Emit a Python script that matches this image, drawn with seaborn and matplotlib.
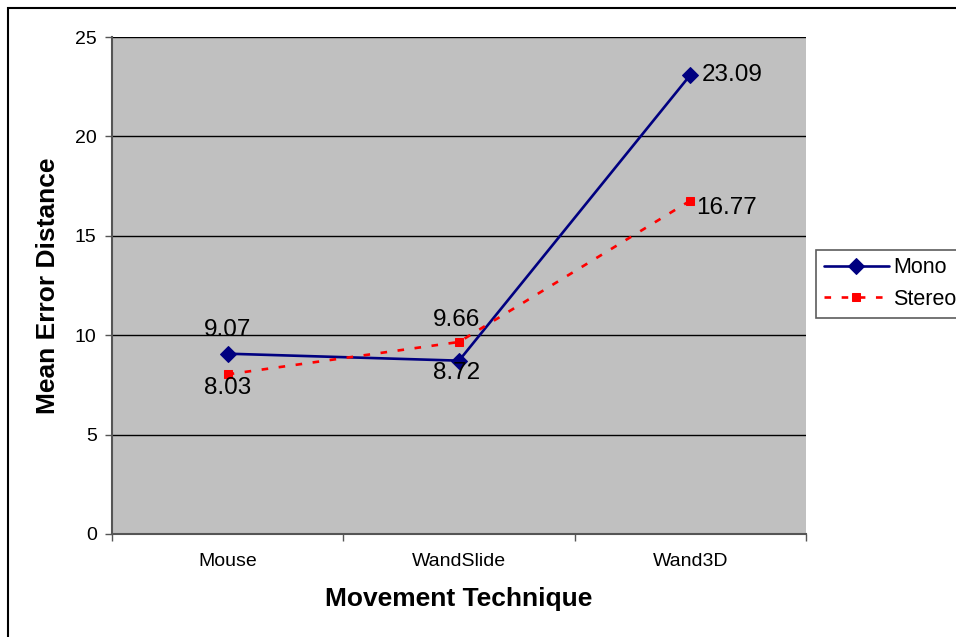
import matplotlib
matplotlib.use("Agg")
import matplotlib.pyplot as plt
from matplotlib.patches import Rectangle
import seaborn as sns
import pandas as pd

techniques = ["Mouse", "WandSlide", "Wand3D"]
mono = [9.07, 8.72, 23.09]
stereo = [8.03, 9.66, 16.77]
y_ticks = [0, 5, 10, 15, 20, 25]

sns.set_theme(style="white")
plt.rcParams["font.family"] = ["Liberation Sans", "DejaVu Sans"]
plt.rcParams["text.color"] = "black"
plt.rcParams["axes.labelcolor"] = "black"
plt.rcParams["xtick.color"] = "black"
plt.rcParams["ytick.color"] = "black"

df = pd.DataFrame({
    "Technique": techniques * 2,
    "Mean Error Distance": mono + stereo,
    "Display": ["Mono"] * 3 + ["Stereo"] * 3,
})

fig = plt.figure(figsize=(9.56, 6.37), dpi=100)
ax = fig.add_axes([112 / 956, 1 - 534 / 637, 694 / 956, 497 / 637])
ax.set_facecolor("#c0c0c0")

sns.lineplot(data=df[df.Display == "Mono"], x="Technique", y="Mean Error Distance",
             ax=ax, color="#000080", linewidth=1.9, marker="D", markersize=8,
             markeredgecolor="#000080", label="Mono", sort=False)
sns.lineplot(data=df[df.Display == "Stereo"], x="Technique", y="Mean Error Distance",
             ax=ax, color="#ff0000", linewidth=1.9, linestyle=(0, (2.5, 4)), marker="s",
             markersize=6, markeredgecolor="#ff0000", label="Stereo", sort=False)

ax.set_xlim(-0.5, 2.5)
ax.set_ylim(0, 25)
ax.set_yticks(y_ticks)
ax.yaxis.grid(True, color="black", linewidth=1)
ax.set_axisbelow(True)

# category ticks on boundaries, labels centred in each band
ax.set_xticks([-0.5, 0.5, 1.5, 2.5])
ax.set_xticklabels([])
ax.set_xticks(range(len(techniques)), minor=True)
ax.set_xticklabels(techniques, minor=True, fontsize=14)
ax.tick_params(axis="x", which="minor", length=0, pad=14)
ax.tick_params(axis="x", which="major", length=5, width=1, color="#555555", direction="out", bottom=True)
ax.tick_params(axis="y", length=5, width=1, color="#555555", direction="out", left=True,
               labelsize=14, pad=6)

for side in ["top", "right"]:
    ax.spines[side].set_visible(False)
for side in ["left", "bottom"]:
    ax.spines[side].set_color("#555555")
    ax.spines[side].set_linewidth(1.5)

ax.set_xlabel("Movement Technique", fontsize=19, fontweight="bold", labelpad=12)
ax.set_ylabel("Mean Error Distance", fontsize=19, fontweight="bold", labelpad=11)

lab_fs = 17.5
ax.annotate(f"{mono[0]:.2f}", (0, mono[0]), xytext=(0, 9), textcoords="offset points",
            ha="center", va="bottom", fontsize=lab_fs)
ax.annotate(f"{stereo[0]:.2f}", (0, stereo[0]), xytext=(0, -2), textcoords="offset points",
            ha="center", va="top", fontsize=lab_fs)
ax.annotate(f"{stereo[1]:.2f}", (1, stereo[1]), xytext=(-2, 8), textcoords="offset points",
            ha="center", va="bottom", fontsize=lab_fs)
ax.annotate(f"{mono[1]:.2f}", (1, mono[1]), xytext=(-2, -1), textcoords="offset points",
            ha="center", va="top", fontsize=lab_fs)
ax.annotate(f"{mono[2]:.2f}", (2, mono[2]), xytext=(8, 0), textcoords="offset points",
            ha="left", va="center", fontsize=lab_fs)
ax.annotate(f"{stereo[2]:.2f}", (2, stereo[2]), xytext=(4, -5), textcoords="offset points",
            ha="left", va="center", fontsize=lab_fs)

leg = ax.legend(loc="upper left", bbox_to_anchor=(1.015, 0.572), frameon=True,
                fancybox=False, fontsize=15.5, handlelength=3.0, handletextpad=0.2,
                borderpad=0.35, labelspacing=0.5, borderaxespad=0)
leg.get_frame().set_edgecolor("#333333")
leg.get_frame().set_linewidth(1.2)

# outer chart border
fig.patches.append(Rectangle((8 / 956, -0.05), 1.1, 1 - 8 / 637 + 0.05,
                             transform=fig.transFigure, fill=False,
                             edgecolor="black", linewidth=1.5))

fig.savefig("out.png", dpi=100)
